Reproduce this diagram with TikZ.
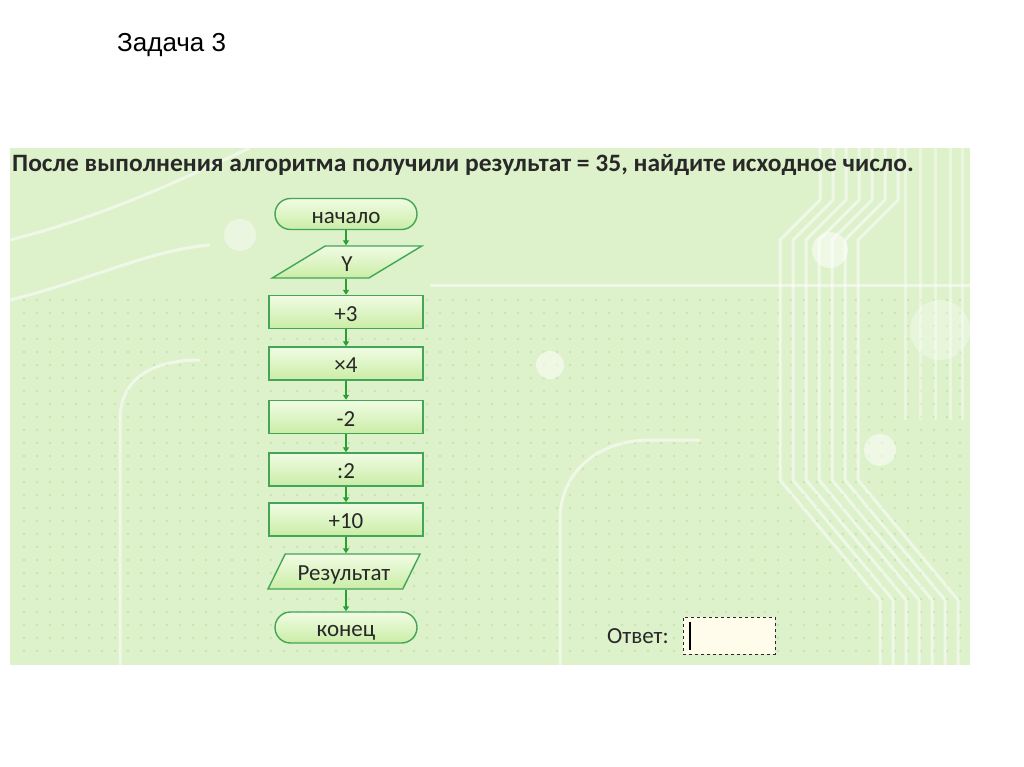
\documentclass[tikz,border=0pt]{standalone}
\usepackage{fontspec}
\setmainfont{Carlito}
\newfontfamily\arialfont{Liberation Sans}
\newfontfamily\titlefont[FakeStretch=1.02]{Carlito}
\usetikzlibrary{positioning,arrows.meta,shapes.geometric}
\definecolor{panelgreen}{RGB}{221,241,203}
\definecolor{dotgreen}{RGB}{170,215,140}
\definecolor{boxline}{RGB}{66,166,86}
\definecolor{boxtop}{RGB}{241,252,228}
\definecolor{boxbot}{RGB}{202,237,166}
\definecolor{flowarrow}{RGB}{40,160,50}
\definecolor{txtgray}{RGB}{40,40,40}
\definecolor{anscream}{RGB}{255,252,236}

\begin{document}
\begin{tikzpicture}[x=1pt,y=-1pt,>={Triangle[width=6pt,length=5pt]},
  chartnode/.style={draw=boxline,line width=1.4pt,top color=boxtop,bottom color=boxbot,
    text=txtgray,font=\fontsize{23}{27}\selectfont,inner sep=0pt,text height=18pt,text depth=0pt},
  termbox/.style={chartnode,rounded corners=15.5pt,minimum width=142pt,minimum height=31pt},
  procbox/.style={chartnode,rectangle,minimum width=154pt,minimum height=33pt},
  iobox/.style={chartnode,trapezium,trapezium left angle=53,trapezium right angle=127,
    trapezium stretches=true,minimum width=150pt,minimum height=32pt},
  flow/.style={->,draw=flowarrow,fill=flowarrow,line width=1.2pt},
  circuit/.style={white,opacity=0.55,line width=3pt,line join=round}]
  \useasboundingbox (0,0) rectangle (1024,767);
  \fill[white] (0,0) rectangle (1024,767);

  % background panel
  \fill[panelgreen] (10,148) rectangle (970,665);
  \begin{scope}
    \clip (10,148) rectangle (970,665);
    \foreach \gx in {24,37,...,960}{
      \foreach \gy in {300,313,...,660}{
        \fill[dotgreen,opacity=0.45] (\gx,\gy) circle (1.3pt);
      }
    }
    \foreach \i in {0,...,6}{
      \draw[circuit] (880+13*\i,665) -- (880+13*\i,600) -- (780+13*\i,480) -- (780+13*\i,240) -- (820+13*\i,200) -- (820+13*\i,148);
    }
    \foreach \x in {905,920,935,950,962}{
      \draw[circuit,opacity=0.4] (\x,148) -- (\x,420);
    }
    \draw[circuit] (430,285) -- (970,285);
    \draw[circuit] (10,240) .. controls (110,215) and (190,175) .. (250,148);
    \draw[circuit] (10,300) .. controls (90,280) and (150,250) .. (210,245);
    \draw[circuit] (120,665) -- (120,420) .. controls (120,380) and (150,360) .. (200,360);
    \draw[circuit] (560,665) -- (560,520) .. controls (560,470) and (600,440) .. (650,440) -- (700,440);
    \fill[white,opacity=0.5] (830,250) circle (18pt);
    \fill[white,opacity=0.5] (550,365) circle (14pt);
    \fill[white,opacity=0.4] (240,235) circle (16pt);
    \fill[white,opacity=0.5] (880,450) circle (16pt);
    \fill[white,opacity=0.3] (940,330) circle (30pt);
  \end{scope}

  % texts
  \node[anchor=base west,inner sep=0pt,font=\arialfont\fontsize{26}{30}\selectfont] (task) at (117,52) {Задача 3};
  \node[anchor=base west,inner sep=0pt,text=txtgray,font=\titlefont\bfseries\fontsize{25}{29}\selectfont] (question) at (12,172)
    {После выполнения алгоритма получили результат = 35, найдите исходное число.};

  % flowchart
  \node[termbox] (start) at (346,214) {начало};
  \node[iobox] (input) at (347,262) {Y};
  \foreach \y/\name/\op in {312/plus/+3,363.5/mult/×4,417/minus/-2,469.5/div/:2,519.5/plusten/+10}{
    \node[procbox] (\name) at (346,\y) {\op};
  }
  \node[iobox,minimum height=35pt,minimum width=152pt] (output) at (344,571.5) {Результат};
  \node[termbox] (stop) at (346,627.5) {конец};

  \foreach \a/\b in {start/input,input/plus,plus/mult,mult/minus,minus/div,div/plusten,plusten/output,output/stop}{
    \draw[flow] (\a.south -| start) -- (\b.north -| start);
  }

  % answer
  \node[anchor=base west,inner sep=0pt,text=txtgray,font=\fontsize{23}{27}\selectfont] (anslabel) at (607,643) {Ответ:};
  \node[draw=txtgray,dashed,line width=0.9pt,fill=anscream,minimum width=92pt,minimum height=37pt] (ansbox) at (729,635.5) {};
  \draw[line width=1.2pt] (690,622) -- (690,650);
\end{tikzpicture}
\end{document}
